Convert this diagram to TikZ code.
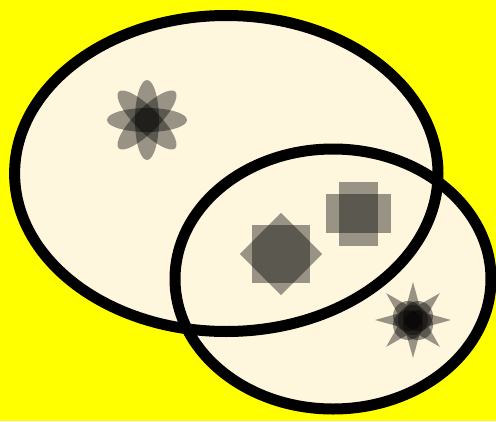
\documentclass[tikz,border=0pt]{standalone}
\definecolor{bgyellow}{RGB}{255, 255, 0}
\definecolor{cream}{RGB}{255, 246, 222}
\usepackage{tikz}
\usetikzlibrary{calc}

\begin{document}
\begin{tikzpicture}[
  x=1pt, y=-1pt,
  setfill/.style={fill=cream},
  setline/.style={draw=black, line width=11pt},
  ghost/.style={fill=black, fill opacity=0.4}
]
  % background and margins
  \fill[bgyellow] (0,0) rectangle (496,421);
  \useasboundingbox (0,0) rectangle (496,421);

  \coordinate (setA) at (226.3,173.5);
  \coordinate (setB) at (333,279);
  \coordinate (flower) at (147,120);
  \coordinate (diamond) at (281,254);
  \coordinate (cross) at (358.5,213.5);
  \coordinate (spark) at (413,320);

  % the two sets: fills first, then outlines
  \fill[setfill] (setA) ellipse [x radius=211.7pt, y radius=158pt];
  \fill[setfill] (setB) ellipse [x radius=158pt, y radius=130pt];
  \draw[setline] (setA) ellipse [x radius=211.7pt, y radius=158pt];
  \draw[setline] (setB) ellipse [x radius=158pt, y radius=130pt];

  % flower of four petals
  \foreach \a in {0,45,90,135}
    \fill[ghost, rotate around={\a:(flower)}] (flower) ellipse [x radius=40pt, y radius=12pt];

  % square and its turned copy
  \fill[ghost] (diamond) +(-29,-29) rectangle +(29,29);
  \fill[ghost, rotate around={45:(diamond)}] (diamond) +(-29,-29) rectangle +(29,29);

  % two crossing bars
  \fill[ghost] (cross) +(-32.5,-19.5) rectangle +(32.5,19.5);
  \fill[ghost] (cross) +(-19.5,-32) rectangle +(19.5,32);

  % eight-pointed star with a dark core
  \fill[ghost] (spark) +(90:38)
    \foreach \a in {90,135,...,405} { -- +(\a:38) -- +(\a+22.5:16.5) } -- cycle;
  \foreach \dx/\dy in {-5/-4, 5/-4, 5/5, -5/5, 0/0}
    \fill[ghost] ($(spark)+(\dx,\dy)$) circle [radius=15pt];
\end{tikzpicture}
\end{document}
